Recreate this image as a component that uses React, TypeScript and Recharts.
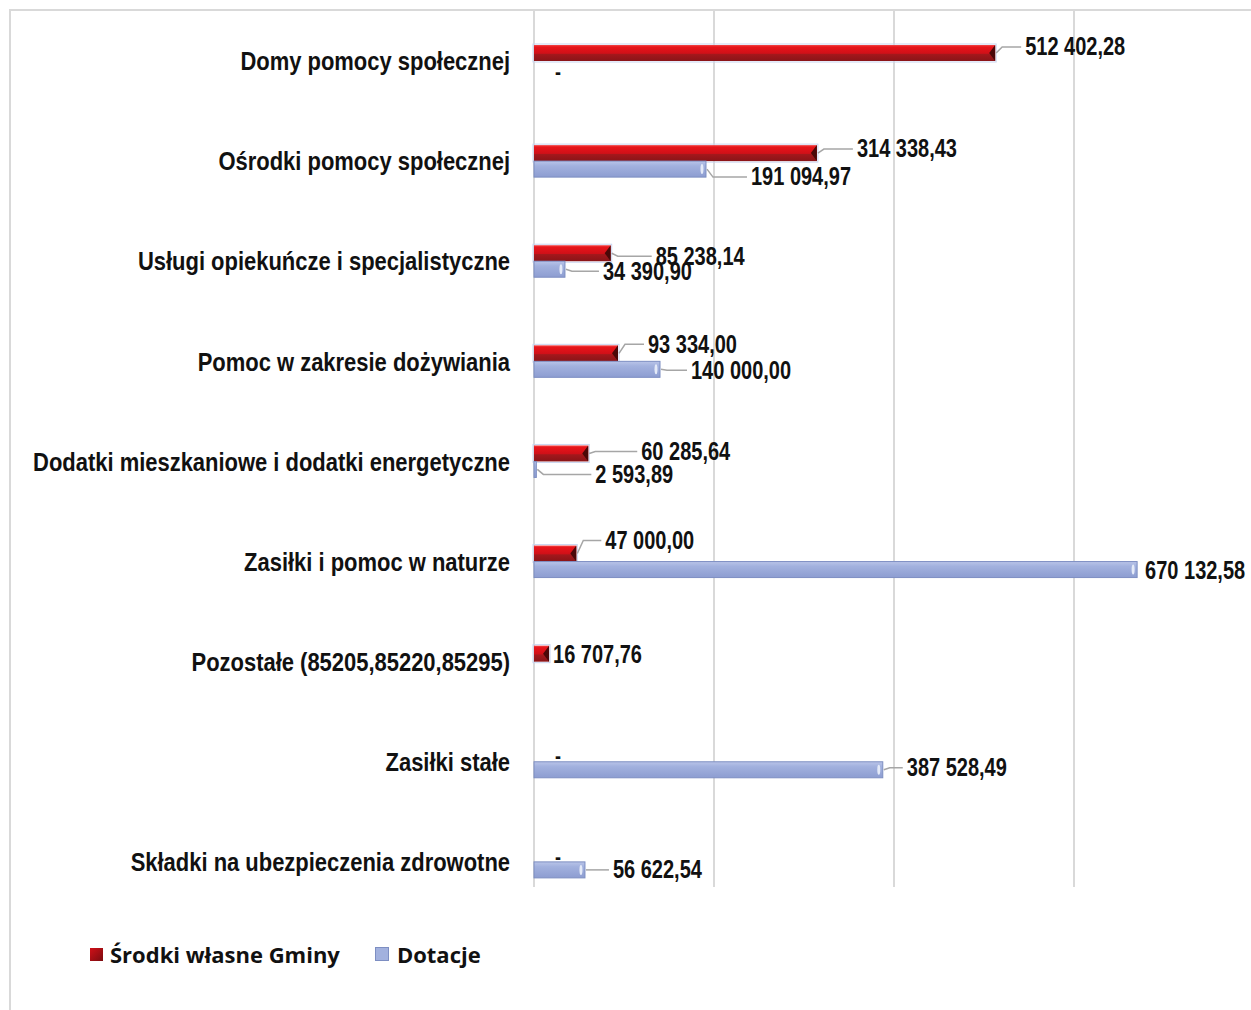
import React from 'react';
import { BarChart, Bar, XAxis, YAxis, CartesianGrid, LabelList } from 'recharts';

const CATEGORIES = [
    'Domy pomocy społecznej',
    'Ośrodki pomocy społecznej',
    'Usługi opiekuńcze i specjalistyczne',
    'Pomoc w zakresie dożywiania',
    'Dodatki mieszkaniowe i dodatki energetyczne',
    'Zasiłki i pomoc w naturze',
    'Pozostałe (85205,85220,85295)',
    'Zasiłki stałe',
    'Składki na ubezpieczenia zdrowotne',
];
const SRODKI_WLASNE = [512402.28, 314338.43, 85238.14, 93334.0, 60285.64, 47000.0, 16707.76, 0, 0];
const DOTACJE = [0, 191094.97, 34390.9, 140000.0, 2593.89, 670132.58, null, 387528.49, 56622.54];

// label offsets (dx from bar end, dy from bar centre) as in the original
const RED_LABEL_OFFSETS = [[30, -6], [40, -4], [45, 3], [30, -9], [53, -2], [29, -13], [4, 1], [0, 0], [0, 0]];
const BLUE_LABEL_OFFSETS = [[0, 0], [45, 8], [38, 2], [31, 1], [59, 5], [8, 1], [0, 0], [24, -2], [28, 0]];

// Arial Narrow look: Liberation Sans squeezed horizontally
const FONT = "'Liberation Sans', Arial, sans-serif";

const data = CATEGORIES.map((name, i) => ({ name, wlasne: SRODKI_WLASNE[i], dotacje: DOTACJE[i] }));

const fmt = (v: number) => {
    const [int, dec] = v.toFixed(2).split('.');
    return int.replace(/\B(?=(\d{3})+(?!\d))/g, ' ') + ',' + dec;
};

const NarrowText = ({ x, y, anchor = 'start', size, squeeze = 0.82, children }: any) => (
    <text transform={`translate(${x},${y}) scale(${squeeze},1)`} textAnchor={anchor} dominantBaseline="central"
          fontSize={size} fontWeight={700} fontFamily={FONT} fill="#111">{children}</text>
);

const RedBar = (props: any) => {
    const { x, y, width, height } = props;
    if (!width || width <= 0) return null;
    const cap = Math.min(6, width / 2);
    return (
        <g>
            <rect x={x - 1} y={y - 1} width={width + 2} height={height + 2} fill="none" stroke="#c9d5f0" strokeWidth={1} />
            <rect x={x} y={y} width={width} height={height} fill="url(#redGrad)" />
            <polygon points={`${x + width - cap},${y + height / 2} ${x + width},${y} ${x + width},${y + height}`} fill="#4a0808" />
        </g>
    );
};

const BlueBar = (props: any) => {
    const { x, y, width, height } = props;
    if (!width || width <= 0) return null;
    return (
        <g>
            <rect x={x} y={y} width={width} height={height} fill="url(#blueGrad)" stroke="#7d8ec2" strokeWidth={1} />
            {width > 8 && <ellipse cx={x + width - 4} cy={y + height / 2} rx={1.5} ry={height / 2 - 3} fill="#e4eaf8" />}
        </g>
    );
};

const makeLabel = (series: (number | null)[], offsets: number[][]) => (props: any) => {
    const { x, y, width, height, value } = props;
    if (value === null || value === undefined) return null;
    const cy = y + height / 2;
    if (value === 0) {
        return <NarrowText x={x + 21} y={cy + 2} size={22}>-</NarrowText>;
    }
    const [dx, dy] = offsets[series.indexOf(value)] || [6, 0];
    const endX = x + width;
    return (
        <g>
            {dx > 12 && (
                <polyline points={`${endX + 1},${cy} ${endX + 7},${cy + dy} ${endX + dx - 4},${cy + dy}`}
                          fill="none" stroke="#a6a6a6" strokeWidth={1.5} />
            )}
            <NarrowText x={endX + dx} y={cy + dy} size={25} squeeze={0.8}>{fmt(value)}</NarrowText>
        </g>
    );
};

const CategoryTick = (props: any) => {
    const { x, y, payload } = props;
    return <NarrowText x={x - 24} y={y} anchor="end" size={26} squeeze={0.845}>{payload.value}</NarrowText>;
};

export default function App() {
    return (
        <div style={{ position: 'absolute', left: 0, top: 0, width: 1251, height: 1010, overflow: 'hidden', background: '#fff' }}>
            <div style={{ position: 'absolute', left: 9, top: 9, width: 1300, height: 1100, border: '2px solid #d9d9d9', boxSizing: 'border-box' }} />
            <div style={{ position: 'absolute', left: 0, top: 0 }}>
                <BarChart width={1260} height={1010} data={data} layout="vertical"
                          margin={{ top: 11, right: 6, bottom: 98, left: 0 }} barGap={0} barCategoryGap={0}>
                    <defs>
                        <linearGradient id="redGrad" x1="0" y1="0" x2="0" y2="1">
                            <stop offset="0%" stopColor="#f04848" />
                            <stop offset="12%" stopColor="#e8141a" />
                            <stop offset="52%" stopColor="#d01018" />
                            <stop offset="58%" stopColor="#a3181c" />
                            <stop offset="100%" stopColor="#8a1418" />
                        </linearGradient>
                        <linearGradient id="blueGrad" x1="0" y1="0" x2="0" y2="1">
                            <stop offset="0%" stopColor="#b9c4e8" />
                            <stop offset="30%" stopColor="#a2b1de" />
                            <stop offset="100%" stopColor="#8d9dd1" />
                        </linearGradient>
                    </defs>
                    <CartesianGrid horizontal={false} stroke="#d9d9d9" strokeWidth={2} y={11} height={876} />
                    <XAxis type="number" domain={[0, 800000]} tickCount={5} hide />
                    <YAxis type="category" dataKey="name" width={534} tickSize={0} tickMargin={0}
                           axisLine={false} tickLine={false} tick={<CategoryTick />} interval={0} />
                    <Bar dataKey="wlasne" name="Środki własne Gminy" barSize={16} shape={<RedBar />} isAnimationActive={false}>
                        <LabelList dataKey="wlasne" content={makeLabel(SRODKI_WLASNE, RED_LABEL_OFFSETS)} />
                    </Bar>
                    <Bar dataKey="dotacje" name="Dotacje" barSize={16} shape={<BlueBar />} isAnimationActive={false}>
                        <LabelList dataKey="dotacje" content={makeLabel(DOTACJE, BLUE_LABEL_OFFSETS)} />
                    </Bar>
                </BarChart>
            </div>
            <div style={{ position: 'absolute', left: 90, top: 939, display: 'flex', alignItems: 'center', fontFamily: "'Open Sans', sans-serif", fontWeight: 700, fontSize: 22, color: '#111' }}>
                <span style={{ width: 13, height: 13, background: 'linear-gradient(135deg, #d01018, #7a0c10)', display: 'inline-block', marginRight: 7 }} />
                <span style={{ marginRight: 35 }}>Środki własne Gminy</span>
                <span style={{ width: 12, height: 12, background: '#a2b1de', border: '1px solid #7d8ec2', display: 'inline-block', marginRight: 8 }} />
                <span>Dotacje</span>
            </div>
        </div>
    );
}
